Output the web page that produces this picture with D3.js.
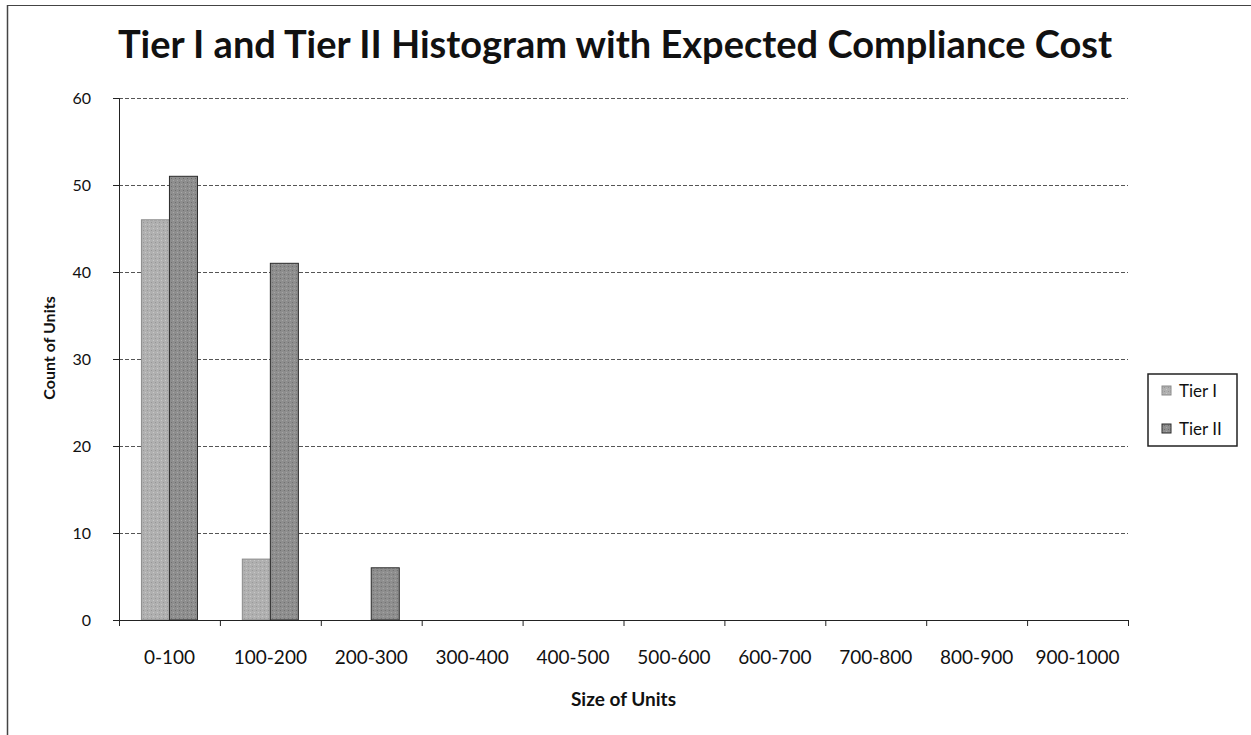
<!DOCTYPE html>
<html>
<head>
<meta charset="utf-8">
<script src="https://cdn.jsdelivr.net/npm/d3@7"></script>
<style>
  body { margin: 0; background: #fff; }
  text { font-family: Lato, "Open Sans", sans-serif; fill: #111; }
</style>
</head>
<body>
<svg id="chart" width="1251" height="735"></svg>
<script>
// data
const categories = ["0-100", "100-200", "200-300", "300-400", "400-500",
  "500-600", "600-700", "700-800", "800-900", "900-1000"];
const series = ["Tier I", "Tier II"];
const tier1 = [46, 7, 0, 0, 0, 0, 0, 0, 0, 0];
const tier2 = [51, 41, 6, 0, 0, 0, 0, 0, 0, 0];
const yTicks = [0, 10, 20, 30, 40, 50, 60];

const colors = { "Tier I": "#b0b0b0", "Tier II": "#8e8e8e" };
const strokes = { "Tier I": "#8a8a8a", "Tier II": "#2a2a2a" };

const width = 1251, height = 735;
const margin = { top: 98, right: 123, bottom: 115, left: 119 };
const innerWidth = width - margin.left - margin.right;
const innerHeight = height - margin.top - margin.bottom;

const svg = d3.select("#chart");

// speckled fills so the bars look like the scanned print
const defs = svg.append("defs");
series.forEach((s, i) => {
  const p = defs.append("pattern")
    .attr("id", "pat" + i)
    .attr("width", 4).attr("height", 4)
    .attr("patternUnits", "userSpaceOnUse");
  p.append("rect").attr("width", 4).attr("height", 4).attr("fill", colors[s]);
  p.append("rect").attr("x", 0).attr("y", 0).attr("width", 1).attr("height", 1)
    .attr("fill", i ? "#6e6e6e" : "#969696");
  p.append("rect").attr("x", 2).attr("y", 2).attr("width", 1).attr("height", 1)
    .attr("fill", i ? "#a8a8a8" : "#c8c8c8");
});

// outer chart border (top and left visible in the scan)
svg.append("line").attr("x1", 7).attr("x2", width).attr("y1", 5.5).attr("y2", 5.5)
  .attr("stroke", "#444").attr("stroke-width", 1.2);
svg.append("line").attr("x1", 7.5).attr("x2", 7.5).attr("y1", 5).attr("y2", height)
  .attr("stroke", "#444").attr("stroke-width", 1.5);

// title
svg.append("text")
  .attr("x", 615).attr("y", 58)
  .attr("text-anchor", "middle")
  .attr("font-size", "38px")
  .attr("font-weight", "bold")
  .text("Tier I and Tier II Histogram with Expected Compliance Cost");

const g = svg.append("g")
  .attr("transform", `translate(${margin.left}, ${margin.top})`);

const x = d3.scaleBand()
  .domain(categories)
  .range([0, innerWidth]);

const x1 = d3.scaleBand()
  .domain(series)
  .range([0, x.bandwidth()])
  .paddingInner(0)
  .paddingOuter(0.8);

const y = d3.scaleLinear()
  .domain([0, 60])
  .range([innerHeight, 0]);

// dashed gridlines
g.append("g")
  .selectAll("line")
  .data(yTicks.filter(d => d > 0))
  .enter().append("line")
  .attr("x1", 0).attr("x2", innerWidth)
  .attr("y1", d => y(d) + 0.5).attr("y2", d => y(d) + 0.5)
  .attr("stroke", "#555")
  .attr("stroke-width", 1)
  .attr("stroke-dasharray", "4,2");

// bars
const rows = categories.map((c, i) => ({ cat: c, vals: [tier1[i], tier2[i]] }));
const groups = g.selectAll(".grp")
  .data(rows)
  .enter().append("g")
  .attr("transform", d => `translate(${x(d.cat)},0)`);

groups.selectAll("rect")
  .data(d => d.vals.map((v, i) => ({ s: series[i], v: v, i: i })).filter(e => e.v > 0))
  .enter().append("rect")
  .attr("x", d => x1(d.s))
  .attr("width", x1.bandwidth())
  .attr("y", d => y(d.v))
  .attr("height", d => innerHeight - y(d.v))
  .attr("fill", d => `url(#pat${d.i})`)
  .attr("stroke", d => strokes[d.s])
  .attr("stroke-width", 1);

// y axis
const yAxis = g.append("g")
  .call(d3.axisLeft(y).tickValues(yTicks).tickSize(6).tickPadding(22));
yAxis.select(".domain").attr("stroke", "#222");
yAxis.selectAll(".tick line").attr("stroke", "#222");
yAxis.selectAll("text")
  .attr("font-size", "16px")
  .attr("font-family", "Lato, sans-serif")
  .attr("fill", "#111");

// x axis: ticks at band boundaries
const xAxisG = g.append("g").attr("transform", `translate(0, ${innerHeight})`);
xAxisG.append("line")
  .attr("x1", 0).attr("x2", innerWidth)
  .attr("y1", 0.5).attr("y2", 0.5)
  .attr("stroke", "#222");
xAxisG.selectAll(".tk")
  .data(categories.concat(["end"]))
  .enter().append("line")
  .attr("x1", (d, i) => i * x.step() + 0.5)
  .attr("x2", (d, i) => i * x.step() + 0.5)
  .attr("y1", 0).attr("y2", 6)
  .attr("stroke", "#222");
xAxisG.selectAll(".lbl")
  .data(categories)
  .enter().append("text")
  .attr("x", d => x(d) + x.bandwidth() / 2)
  .attr("y", 44)
  .attr("text-anchor", "middle")
  .attr("font-size", "19px")
  .text(d => d);

// axis titles
svg.append("text")
  .attr("x", margin.left + innerWidth / 2)
  .attr("y", 706)
  .attr("text-anchor", "middle")
  .attr("font-size", "19px")
  .attr("font-weight", "bold")
  .text("Size of Units");

svg.append("text")
  .attr("transform", `translate(55, 348) rotate(-90)`)
  .attr("text-anchor", "middle")
  .attr("font-size", "16px")
  .attr("font-weight", "bold")
  .text("Count of Units");

// legend
const legend = svg.append("g").attr("transform", "translate(1148, 374)");
legend.append("rect")
  .attr("width", 89).attr("height", 72)
  .attr("fill", "#fff")
  .attr("stroke", "#222")
  .attr("stroke-width", 1.5);
series.forEach((s, i) => {
  const row = legend.append("g").attr("transform", `translate(0, ${17 + i * 38})`);
  row.append("rect")
    .attr("x", 14).attr("y", -5)
    .attr("width", 9).attr("height", 9)
    .attr("fill", `url(#pat${i})`)
    .attr("stroke", strokes[s]);
  row.append("text")
    .attr("x", 31).attr("y", 6)
    .attr("font-size", "17px")
    .text(s);
});
</script>
</body>
</html>
